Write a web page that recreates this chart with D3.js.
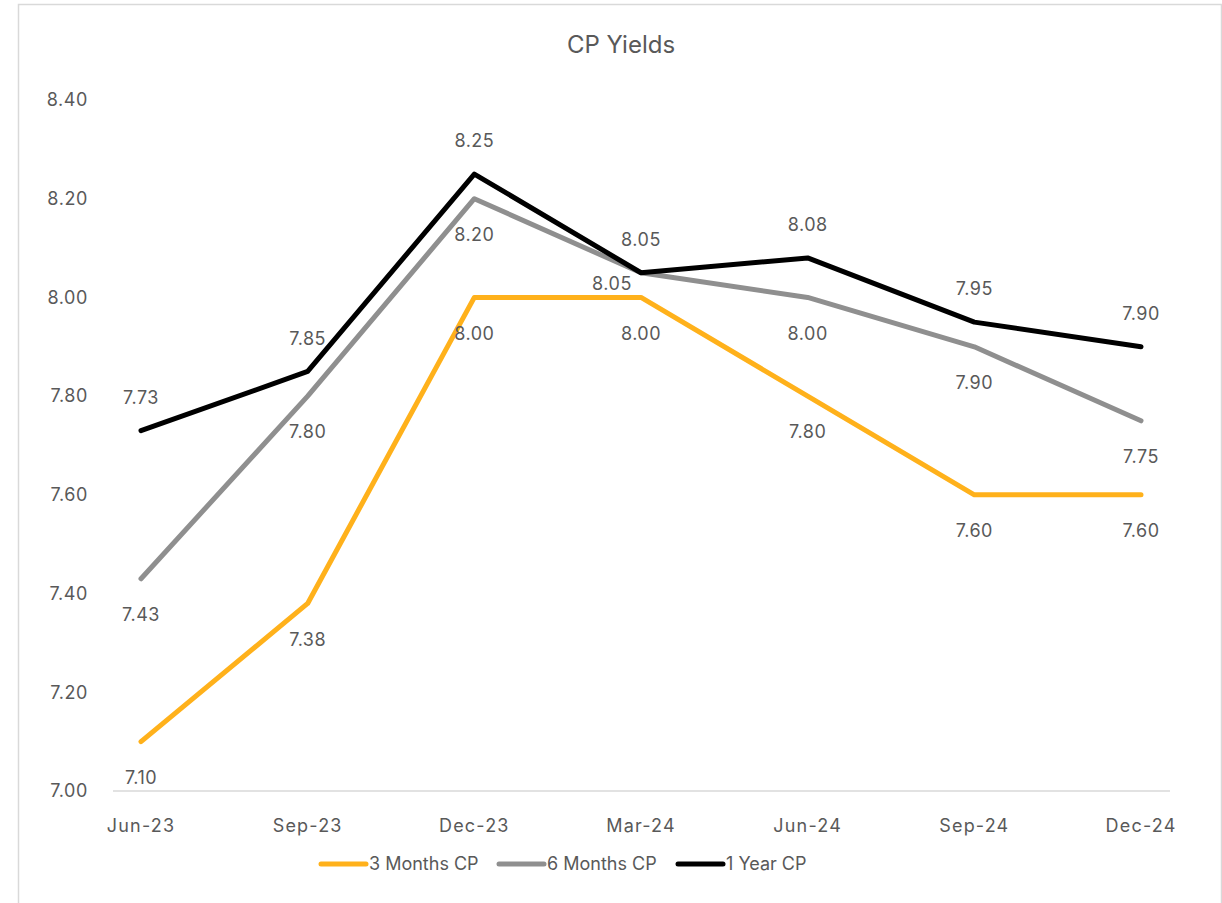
<!DOCTYPE html>
<html>
<head>
<meta charset="utf-8">
<script src="https://cdn.jsdelivr.net/npm/d3@7"></script>
<style>
  html, body { margin: 0; padding: 0; background: #fff; }
  svg { display: block; }
  text { font-family: "Inter", "Open Sans", sans-serif; fill: #595959; }
</style>
</head>
<body>
<script>
const categories = ["Jun-23", "Sep-23", "Dec-23", "Mar-24", "Jun-24", "Sep-24", "Dec-24"];
const threeMonths = [7.10, 7.38, 8.00, 8.00, 7.80, 7.60, 7.60];
const sixMonths = [7.43, 7.80, 8.20, 8.05, 8.00, 7.90, 7.75];
const oneYear = [7.73, 7.85, 8.25, 8.05, 8.08, 7.95, 7.90];
const yTicks = [7.00, 7.20, 7.40, 7.60, 7.80, 8.00, 8.20, 8.40];
const seriesNames = ["3 Months CP", "6 Months CP", "1 Year CP"];
const seriesColors = ["#FFB11B", "#8F8F8F", "#000000"];
// label placement per point: "b" below, "a" above, "l" left
const labelPos = [
  ["b","b","b","b","b","b","b"],
  ["b","b","b","l","b","b","b"],
  ["a","a","a","a","a","a","a"]
];

const W = 1222, H = 903;
const svg = d3.select("body").append("svg").attr("width", W).attr("height", H);

// chart border
svg.append("rect").attr("x", 18.5).attr("y", 4.5).attr("width", 1203).attr("height", 905)
  .attr("fill", "#fff").attr("stroke", "#d9d9d9").attr("stroke-width", 1.5);

const x = d3.scalePoint().domain(categories).range([141, 1141]);
const y = d3.scaleLinear().domain([7.0, 8.4]).range([791, 100]);

// title
svg.append("text").attr("x", 621).attr("y", 53).attr("text-anchor", "middle")
  .style("font-size", "24px").text("CP Yields");

// x axis line
svg.append("line").attr("x1", 113).attr("x2", 1170).attr("y1", y(7.0)).attr("y2", y(7.0))
  .attr("stroke", "#d9d9d9").attr("stroke-width", 1.5);

// y tick labels
svg.selectAll(".ytick").data(yTicks).join("text")
  .attr("class", "ytick")
  .attr("x", 88).attr("y", d => y(d)).attr("dy", "0.35em")
  .attr("text-anchor", "end").style("font-size", "18px").style("letter-spacing", "0.6px")
  .text(d => d.toFixed(2));

// x labels
svg.selectAll(".xtick").data(categories).join("text")
  .attr("class", "xtick")
  .attr("x", d => x(d)).attr("y", 826).attr("dy", "0.35em")
  .attr("text-anchor", "middle").style("font-size", "18px").style("letter-spacing", "1.2px")
  .text(d => d);

const allSeries = [threeMonths, sixMonths, oneYear];
const line = d3.line().x((d, i) => x(categories[i])).y(d => y(d));

allSeries.forEach((vals, s) => {
  svg.append("path").datum(vals).attr("d", line)
    .attr("fill", "none").attr("stroke", seriesColors[s]).attr("stroke-width", 5)
    .attr("stroke-linejoin", "round").attr("stroke-linecap", "round");
});

allSeries.forEach((vals, s) => {
  svg.selectAll(".lbl" + s).data(vals).join("text")
    .attr("class", "lbl" + s)
    .attr("x", (d, i) => labelPos[s][i] === "l" ? x(categories[i]) - 29 : x(categories[i]))
    .attr("y", (d, i) => {
      const p = labelPos[s][i];
      if (p === "a") return y(d) - 33;
      if (p === "b") return y(d) + 36;
      return y(d) + 11;
    })
    .attr("dy", "0.35em").attr("text-anchor", "middle").style("font-size", "18px").style("letter-spacing", "0.5px")
    .text(d => d.toFixed(2));
});

// legend
const legX = [321, 499, 678];
seriesNames.forEach((n, s) => {
  svg.append("line").attr("x1", legX[s]).attr("x2", legX[s] + 45)
    .attr("y1", 864).attr("y2", 864)
    .attr("stroke", seriesColors[s]).attr("stroke-width", 5).attr("stroke-linecap", "round");
  svg.append("text").attr("x", legX[s] + 48).attr("y", 864).attr("dy", "0.35em")
    .style("font-size", "18px").text(n);
});
</script>
</body>
</html>
